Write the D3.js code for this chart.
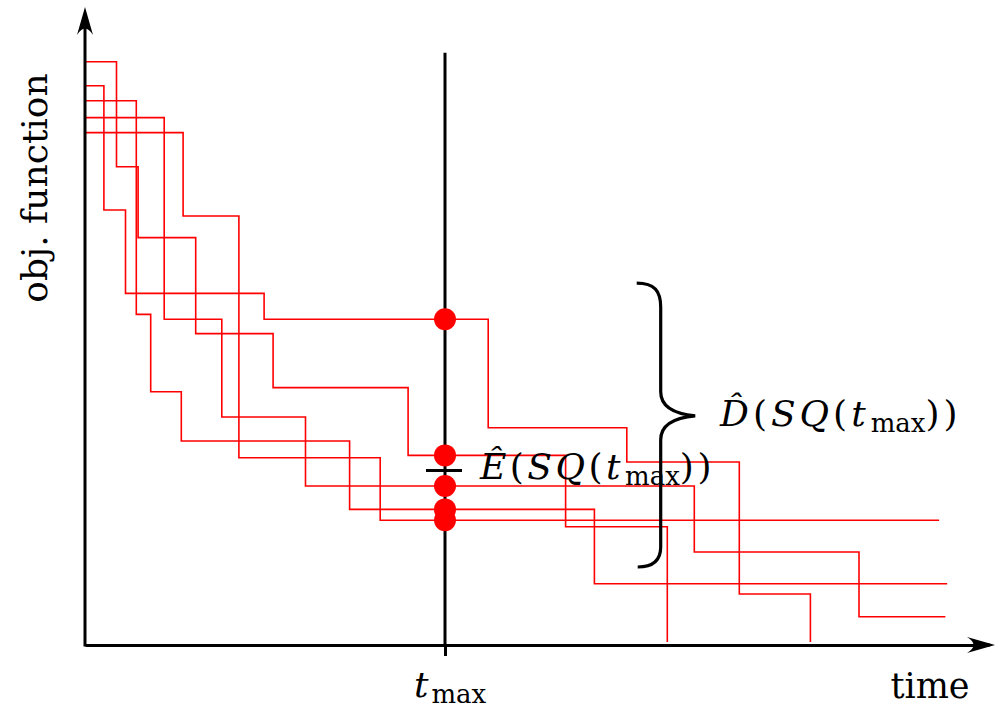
<!DOCTYPE html>
<html>
<head>
<meta charset="utf-8">
<script src="https://cdn.jsdelivr.net/npm/d3@7"></script>
<style>
  body { margin: 0; background: #fff; }
  svg { display: block; }
</style>
</head>
<body>
<div id="chart"></div>
<script>
// Five step runs (time, obj. value); each value holds until the next time
const runA = [[0, 97.2], [3.5, 79.7], [5.9, 67.9], [12.3, 51.9], [20.9, 42.9], [35.9, 31.6], [53.4, 19.7], [64.7, 0.5]];
const runB = [[0, 93.2], [2.1, 72.5], [4.5, 58.6], [19.9, 54.3], [44.8, 36.2], [60.2, 30.5], [72.7, 8.5], [80.6, 0.5]];
const runC = [[0, 90.7], [5.7, 55.1], [7.3, 42.2], [10.7, 34.0], [29.4, 22.6], [56.6, 10.2], [95.8, 10.2]];
const runD = [[0, 87.9], [8.8, 54.3], [15.2, 38.0], [24.5, 26.5], [67.7, 15.5], [86.0, 4.7], [95.6, 4.7]];
const runE = [[0, 85.4], [10.9, 71.5], [17.1, 31.2], [32.8, 20.8], [94.9, 20.8]];
const runs = [runA, runB, runC, runD, runE];

const tMax = 40;
const tMaxLineTop = 98.7;   // top of the vertical t_max line
const eHat = 29.1;          // estimated mean mark
const brace = { t: 61.3, tip: 67.8, top: 60.3, bottom: 13.0, mid: 38.2 };

const width = 995, height = 709;
const margin = { left: 85, bottom: 64 };

const svg = d3.select("#chart").append("svg")
  .attr("width", width)
  .attr("height", height)
  .style("background", "#ffffff");

const x = d3.scaleLinear().domain([0, 100]).range([margin.left, 985]);
const y = d3.scaleLinear().domain([0, 100]).range([height - margin.bottom, 45]);

const serif = "'DejaVu Serif', serif";

// step curves
const line = d3.line()
  .x(d => x(d[0]))
  .y(d => y(d[1]))
  .curve(d3.curveStepAfter);

svg.append("g")
  .selectAll("path")
  .data(runs)
  .join("path")
  .attr("d", line)
  .attr("fill", "none")
  .attr("stroke", "#ff0000")
  .attr("stroke-width", 1.6);

// axes
const x0 = x(0), y0 = y(0);
svg.append("g")
  .attr("transform", `translate(0,${y0})`)
  .call(d3.axisBottom(x).tickValues([tMax]).tickSizeInner(11).tickSizeOuter(0).tickFormat(""))
  .call(g => g.selectAll("path, line").attr("stroke", "#000").attr("stroke-width", 3));

svg.append("line")
  .attr("x1", x(100)).attr("x2", 990)
  .attr("y1", y0).attr("y2", y0)
  .attr("stroke", "#000").attr("stroke-width", 3);

svg.append("line")
  .attr("x1", x0).attr("x2", x0)
  .attr("y1", y0 + 1.5).attr("y2", 14)
  .attr("stroke", "#000").attr("stroke-width", 3);

// arrow heads
svg.append("path")
  .attr("d", `M${x0},7 L${x0 - 8},35 Q${x0},22 ${x0 + 8},35 Z`)
  .attr("fill", "#000");
svg.append("path")
  .attr("d", `M995,${y0} L967,${y0 - 8} Q980,${y0} 967,${y0 + 8} Z`)
  .attr("fill", "#000");

// vertical t_max line
svg.append("line")
  .attr("x1", x(tMax)).attr("x2", x(tMax))
  .attr("y1", y(tMaxLineTop)).attr("y2", y0)
  .attr("stroke", "#000").attr("stroke-width", 3);

// values of each run at t_max
const valueAt = (run, t) => run.filter(d => d[0] <= t).pop()[1];
svg.append("g")
  .selectAll("circle")
  .data(runs.map(r => valueAt(r, tMax)))
  .join("circle")
  .attr("cx", x(tMax))
  .attr("cy", d => y(d))
  .attr("r", 11)
  .attr("fill", "#ff0000");

// mean tick
svg.append("line")
  .attr("x1", x(tMax) - 19).attr("x2", x(tMax) + 17)
  .attr("y1", y(eHat)).attr("y2", y(eHat))
  .attr("stroke", "#000").attr("stroke-width", 3);

// brace
const bx = x(brace.t), bTip = x(brace.tip);
const bTop = y(brace.top), bBot = y(brace.bottom), bMid = y(brace.mid);
const bv = bx + 24;
svg.append("path")
  .attr("d", `M${bx},${bTop} C${bv - 6},${bTop} ${bv},${bTop + 8} ${bv},${bTop + 24}
    L${bv},${bMid - 24} C${bv},${bMid - 10} ${bv + 12},${bMid - 2} ${bTip},${bMid}
    C${bv + 12},${bMid + 2} ${bv},${bMid + 10} ${bv},${bMid + 24}
    L${bv},${bBot - 20} C${bv},${bBot - 6} ${bv - 8},${bBot} ${bx + 1},${bBot}`)
  .attr("fill", "none")
  .attr("stroke", "#000")
  .attr("stroke-width", 3.2);

// math-like label: parts of [text, style]
function mathLabel(sel, px, py, parts, size, spacing) {
  const t = sel.append("text")
    .attr("x", px).attr("y", py)
    .style("font-family", serif)
    .style("font-size", size + "px")
    .attr("fill", "#000");
  let lowered = false;
  parts.forEach(([txt, style]) => {
    const s = t.append("tspan").text(txt);
    if (style === "i") s.style("font-style", "italic");
    if (style === "sub") {
      s.style("font-size", Math.round(size * 0.72) + "px").attr("dy", 6).attr("dx", 1);
      lowered = true;
    } else {
      if (lowered) { s.attr("dy", -6); lowered = false; }
      s.style("letter-spacing", spacing + "px");
    }
  });
  return t;
}

mathLabel(svg, 480, 479, [["E\u0302", "i"], ["(", ""], ["SQ", "i"], ["(", ""], ["t", "i"], ["max", "sub"], ["))", ""]], 36, 3.5);
mathLabel(svg, 720, 426, [["D\u0302", "i"], ["(", ""], ["SQ", "i"], ["(", ""], ["t", "i"], ["max", "sub"], ["))", ""]], 36, 4);
mathLabel(svg, 414, 697, [["t", "i"], ["max", "sub"]], 36, 2);

// axis titles
svg.append("text")
  .attr("x", 930).attr("y", 698)
  .attr("text-anchor", "middle")
  .style("font-family", serif)
  .style("font-size", "35px")
  .text("time");

svg.append("text")
  .attr("transform", "translate(47,188) rotate(-90)")
  .attr("text-anchor", "middle")
  .style("font-family", serif)
  .style("font-size", "36px")
  .text("obj. function");
</script>
</body>
</html>
